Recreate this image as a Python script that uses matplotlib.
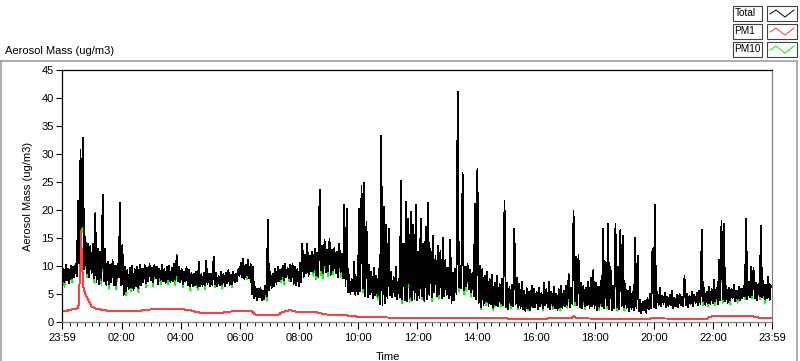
"""Aerosol mass over 24 h (Total / PM1 / PM10), LabVIEW-style chart."""
import numpy as np
import matplotlib
matplotlib.use("Agg")
import matplotlib.pyplot as plt
from matplotlib.lines import Line2D
from matplotlib.patches import Rectangle

plt.rcParams["font.family"] = ["Liberation Sans", "DejaVu Sans"]

# Total trace, read as 5-minute envelope (max / min), one row = one hour from 23:59
total_hi = [
    9.5, 10.2, 9.4, 10.0, 9.8, 10.4, 21.6, 30.7, 33.0, 15.2, 14.0, 13.5,
    14.0, 19.4, 13.0, 12.5, 22.7, 13.0, 10.8, 10.2, 11.0, 10.0, 10.4, 21.2,
    13.7, 9.8, 9.2, 9.6, 10.0, 9.4, 9.9, 10.2, 9.5, 10.1, 9.7, 10.3,
    9.6, 10.2, 9.8, 9.5, 10.1, 9.4, 9.9, 10.0, 9.6, 10.3, 11.9, 9.8,
    9.5, 9.0, 9.8, 9.2, 8.8, 8.6, 9.0, 10.7, 8.5, 8.8, 10.9, 8.6,
    8.6, 11.7, 8.8, 8.2, 9.0, 8.5, 8.7, 9.2, 8.4, 8.9, 8.6, 9.4,
    10.5, 11.3, 10.2, 11.0, 10.4, 9.8, 6.2, 5.8, 6.0, 5.6, 6.4, 18.3,
    9.0, 8.6, 9.4, 9.8, 9.2, 10.0, 10.4, 9.6, 10.2, 10.4, 9.8, 9.5,
    10.5, 14.0, 12.0, 13.9, 11.8, 12.5, 13.1, 12.4, 23.6, 13.5, 14.6, 12.8,
    14.9, 12.8, 13.2, 12.5, 14.0, 12.2, 20.9, 20.2, 8.4, 7.6, 10.7, 8.0,
    20.2, 24.3, 24.8, 17.9, 10.1, 9.0, 9.6, 8.2, 9.4, 33.3, 20.6, 17.3,
    16.7, 9.0, 8.0, 9.8, 7.6, 25.2, 14.0, 21.5, 18.5, 19.7, 17.3, 20.9,
    12.5, 18.5, 14.0, 17.0, 21.2, 13.0, 15.4, 11.8, 13.5, 12.6, 15.0, 11.0,
    9.6, 14.6, 8.8, 9.4, 41.2, 10.0, 26.7, 9.8, 10.4, 9.2, 8.8, 21.1,
    27.4, 10.0, 9.4, 8.2, 9.0, 7.6, 8.4, 7.0, 8.2, 6.8, 7.6, 21.6,
    7.0, 6.2, 6.6, 16.6, 7.8, 6.8, 7.2, 5.6, 6.0, 5.4, 6.4, 5.8,
    5.4, 6.0, 5.2, 6.9, 5.8, 7.2, 5.4, 6.2, 5.0, 5.8, 6.4, 5.6,
    6.4, 8.5, 6.0, 19.8, 11.6, 12.0, 7.0, 6.4, 6.0, 7.2, 7.8, 9.2,
    7.0, 6.2, 7.4, 16.7, 10.7, 17.6, 9.8, 6.4, 17.6, 9.8, 16.4, 15.3,
    6.8, 5.6, 6.2, 5.4, 15.0, 11.8, 4.0, 3.6, 3.8, 4.2, 5.0, 13.0,
    20.9, 5.4, 6.0, 4.6, 5.2, 4.4, 4.8, 5.6, 4.2, 4.8, 5.0, 4.4,
    8.2, 5.0, 4.6, 5.4, 4.8, 5.2, 5.6, 16.5, 6.0, 5.4, 6.2, 5.8,
    7.5, 6.0, 11.0, 18.0, 17.6, 6.4, 6.0, 5.8, 6.6, 5.6, 6.2, 5.8,
    6.4, 18.5, 7.2, 9.8, 9.6, 7.0, 6.8, 17.1, 7.4, 6.6, 8.0, 6.5,
]
total_lo = [
    6.3, 7.0, 7.4, 6.9, 7.8, 8.0, 8.2, 10.5, 17.0, 9.4, 8.6, 8.0,
    8.6, 7.8, 7.0, 6.8, 7.4, 7.2, 6.6, 6.8, 7.0, 6.5, 6.6, 8.0,
    6.5, 4.8, 5.5, 5.8, 6.2, 5.6, 6.3, 6.0, 6.6, 7.0, 6.9, 7.2,
    7.4, 7.0, 7.8, 6.8, 7.5, 7.2, 6.9, 7.6, 7.0, 7.3, 7.5, 7.2,
    7.0, 6.8, 7.2, 6.5, 6.4, 6.3, 6.6, 6.2, 6.3, 6.4, 6.5, 6.8,
    6.4, 6.6, 6.8, 6.3, 6.5, 6.7, 6.4, 6.9, 6.6, 6.8, 7.0, 7.2,
    8.2, 8.0, 7.6, 8.4, 7.8, 5.0, 4.2, 3.9, 4.4, 3.8, 4.0, 4.5,
    5.6, 6.0, 6.3, 6.8, 7.2, 7.6, 7.4, 8.0, 7.8, 7.2, 6.8, 6.6,
    6.4, 7.0, 8.0, 8.6, 8.2, 9.0, 8.8, 8.4, 8.0, 9.2, 8.6, 8.8,
    9.0, 8.4, 9.2, 8.6, 8.0, 8.8, 7.8, 6.3, 5.2, 5.0, 5.4, 4.8,
    5.0, 5.4, 6.0, 4.6, 4.4, 5.0, 4.2, 4.8, 4.5, 3.2, 3.0, 3.4,
    4.2, 4.8, 4.4, 4.6, 4.0, 4.4, 4.0, 3.8, 3.6, 4.2, 3.8, 4.0,
    3.8, 4.2, 4.6, 3.6, 4.0, 4.8, 4.4, 5.2, 4.6, 5.0, 4.2, 4.6,
    4.8, 4.2, 3.4, 3.8, 5.0, 6.2, 6.0, 5.6, 6.4, 5.8, 5.2, 4.6,
    4.0, 3.4, 2.6, 3.0, 3.6, 2.8, 3.2, 2.4, 3.0, 2.8, 3.4, 3.0,
    2.6, 2.2, 3.0, 2.8, 3.2, 2.6, 2.4, 2.2, 1.8, 2.4, 2.0, 2.6,
    2.6, 2.2, 2.8, 2.4, 3.0, 2.6, 2.2, 2.8, 2.4, 2.0, 2.6, 2.4,
    2.8, 3.0, 2.6, 3.2, 3.6, 3.0, 2.6, 2.4, 2.8, 3.0, 2.4, 2.8,
    2.4, 2.0, 2.6, 2.8, 2.4, 3.0, 2.2, 2.0, 2.4, 2.6, 2.2, 2.8,
    2.6, 2.4, 1.8, 2.2, 2.0, 2.4, 1.8, 1.5, 2.0, 1.6, 2.2, 2.4,
    2.6, 2.4, 3.0, 2.8, 3.2, 2.6, 2.8, 3.0, 2.4, 2.8, 2.6, 3.0,
    2.8, 3.0, 2.6, 3.2, 2.8, 3.4, 3.0, 3.2, 3.6, 3.0, 3.4, 3.2,
    3.4, 3.6, 3.2, 3.8, 4.0, 3.6, 3.4, 3.8, 4.2, 3.6, 4.0, 3.8,
    4.2, 4.6, 4.0, 4.4, 4.8, 4.2, 3.9, 4.6, 4.4, 4.0, 4.2, 3.8,
]
# PM10 lows (its peaks sit under the Total trace)
pm10_lo = [
    6.3, 6.2, 7.4, 6.9, 7.0, 8.0, 8.2, 10.5, 16.0, 9.4, 8.0, 8.0,
    8.6, 7.0, 7.0, 6.8, 6.6, 7.2, 6.6, 6.0, 7.0, 6.5, 5.8, 8.0,
    6.5, 4.8, 4.8, 5.8, 5.4, 5.6, 6.3, 5.2, 6.6, 7.0, 6.2, 7.2,
    7.4, 6.3, 7.8, 6.8, 6.7, 7.2, 6.9, 6.8, 7.0, 7.3, 6.6, 7.2,
    7.0, 6.2, 7.2, 6.5, 5.7, 6.3, 6.6, 5.6, 6.3, 6.4, 5.8, 6.8,
    6.4, 6.6, 6.1, 6.3, 6.5, 6.0, 6.4, 6.9, 6.6, 6.1, 7.0, 7.2,
    8.2, 8.0, 7.6, 7.7, 7.8, 5.0, 4.2, 3.9, 4.4, 3.8, 4.0, 3.8,
    5.6, 6.0, 6.3, 6.8, 7.2, 7.0, 6.8, 8.0, 7.2, 7.2, 6.8, 6.6,
    6.4, 7.0, 8.0, 8.6, 8.2, 9.0, 8.1, 7.6, 8.0, 8.4, 7.8, 8.8,
    8.2, 8.4, 8.5, 8.6, 8.0, 8.0, 7.8, 6.3, 5.2, 5.0, 5.4, 4.8,
    5.0, 5.4, 5.2, 4.6, 4.4, 5.0, 4.2, 4.8, 3.8, 3.2, 3.0, 3.4,
    4.2, 4.8, 4.4, 4.6, 4.0, 4.4, 3.4, 3.8, 3.6, 3.5, 3.8, 4.0,
    3.8, 4.2, 4.0, 3.6, 4.0, 4.8, 3.7, 5.2, 4.6, 4.3, 4.2, 4.6,
    4.8, 4.2, 3.4, 3.8, 5.0, 5.4, 6.0, 4.9, 5.6, 5.8, 4.6, 4.6,
    4.0, 3.4, 2.2, 3.0, 3.0, 2.8, 3.2, 2.0, 3.0, 2.8, 2.8, 3.0,
    2.6, 2.2, 2.4, 2.8, 3.2, 2.2, 2.4, 2.2, 1.8, 2.0, 2.0, 2.6,
    2.6, 2.2, 2.8, 2.0, 3.0, 2.6, 2.2, 2.3, 2.4, 2.0, 2.1, 2.4,
    2.8, 2.5, 2.6, 3.2, 3.0, 3.0, 2.6, 2.4, 2.2, 3.0, 2.4, 2.8,
    2.4, 2.0, 2.1, 2.8, 2.4, 2.4, 2.2, 2.0, 2.4, 2.0, 2.2, 2.8,
    2.0, 2.4, 1.8, 2.2, 2.0, 2.4, 1.8, 1.5, 2.0, 1.6, 2.2, 2.4,
    2.6, 2.4, 3.0, 2.8, 3.2, 2.6, 2.8, 3.0, 2.4, 2.8, 2.6, 3.0,
    2.8, 3.0, 2.6, 3.2, 2.8, 3.4, 3.0, 3.2, 3.0, 3.0, 2.8, 3.2,
    3.4, 3.0, 3.2, 3.8, 3.4, 3.6, 3.4, 3.2, 4.2, 3.6, 3.4, 3.8,
    4.2, 4.0, 4.0, 4.4, 4.2, 4.2, 3.9, 4.0, 4.4, 3.4, 4.2, 3.8,
]
# PM1: smooth trace, read at breakpoints (hours after 23:59, ug/m3)
pm1_hours = [0.0, 0.2, 0.4, 0.55, 0.58, 0.62, 0.64, 0.67, 0.7, 0.72, 0.78, 0.85,
             0.95, 1.0, 1.1, 1.3, 1.6, 2.2, 2.6, 3.0, 3.5, 4.0, 4.3, 4.5, 4.8,
             5.4, 5.5, 6.0, 6.4, 6.5, 6.6, 7.3, 7.4, 7.7, 8.0, 8.6, 8.9, 9.5,
             10.0, 11.0, 12.5, 14.0, 15.0, 15.3, 16.0, 16.5, 17.2, 17.3, 17.4,
             19.0, 19.8, 19.9, 21.8, 21.9, 22.1, 23.3, 23.4, 23.6, 24.0]
pm1_vals = [1.9, 2.0, 2.3, 2.4, 4.5, 12.0, 16.2, 11.6, 8.0, 6.3, 5.1, 4.2,
            3.3, 2.7, 2.4, 2.2, 1.9, 1.85, 1.95, 2.2, 2.2, 2.25, 2.1, 1.8, 1.5,
            1.6, 1.7, 2.0, 2.0, 1.4, 1.2, 1.2, 1.6, 2.1, 1.7, 1.7, 1.3, 1.2,
            0.9, 0.75, 0.7, 0.7, 0.6, 0.45, 0.45, 0.6, 0.6, 1.0, 0.6,
            0.5, 0.45, 0.6, 0.5, 0.9, 1.0, 1.0, 0.9, 0.7, 0.7]

tick_minutes = [0, 121, 241, 361, 481, 601, 721, 841, 961, 1081, 1201, 1321, 1440]
tick_labels = ["23:59", "02:00", "04:00", "06:00", "08:00", "10:00", "12:00",
               "14:00", "16:00", "18:00", "20:00", "22:00", "23:59"]
minor_minutes = [m for m in range(16, 1440, 15) if m not in tick_minutes]

W, H = 800, 361
fig = plt.figure(figsize=(W / 100, H / 100), dpi=100)
ax = fig.add_axes([62 / W, 1 - 321.7 / H, 710 / W, 251.4 / H])

# zig-zag the envelopes, low then high in each 5-minute slot
t = np.arange(2 * len(total_hi)) * 2.5
total = np.column_stack([total_lo, total_hi]).ravel()
pm10 = np.column_stack([pm10_lo, total_hi]).ravel()
ax.plot(t, pm10, color="#00ff00", lw=0.55, antialiased=False)
ax.plot(np.array(pm1_hours) * 60, pm1_vals, color="#ff4040", lw=0.7, antialiased=False)
ax.plot(t, total, color="black", lw=0.55, antialiased=False)

ax.set_xlim(0, 1440)
ax.set_ylim(0, 45)
ax.set_yticks(range(0, 46, 5))
ax.set_xticks(tick_minutes)
ax.set_xticklabels(tick_labels)
ax.set_xticks(minor_minutes, minor=True)
ax.tick_params(axis="both", labelsize=8, direction="out", width=0.8, color="black")
ax.tick_params(axis="x", which="major", length=5, pad=3)
ax.tick_params(axis="x", which="minor", length=3)
ax.tick_params(axis="y", length=4, pad=2)
for side in ("top", "left"):
    ax.spines[side].set_color("black")
for side in ("right", "bottom"):
    ax.spines[side].set_color("#808080")
for s in ax.spines.values():
    s.set_linewidth(0.9)

ax.set_xlabel("Time", fontsize=8)
ax.xaxis.set_label_coords((388 - 62) / 710, (321.7 - 352) / 251.4)
ax.set_ylabel("Aerosol Mass (ug/m3)", fontsize=8)
ax.yaxis.set_label_coords((33 - 62) / 710, 0.5)


# panel frame and legend, placed in pixel terms
def fx(x):
    return x / W


def fy(y):
    return 1 - y / H


for xs, ys in [([0, 797], [61, 61]), ([0.5, 0.5], [61, 361]), ([797, 797], [61, 361])]:
    fig.add_artist(Line2D([fx(v) for v in xs], [fy(v) for v in ys],
                          transform=fig.transFigure, color="#a0a0a0", lw=1.2))

fig.text(fx(5), fy(51), "Aerosol Mass (ug/m3)", fontsize=8, ha="left", va="center")

legend_names = ["Total", "PM1", "PM10"]
legend_colors = ["black", "#ff4040", "#00ff00"]
for i, (name, col) in enumerate(zip(legend_names, legend_colors)):
    top = 6 + 18 * i
    fig.add_artist(Rectangle((fx(733), fy(top + 15)), 29 / W, 15 / H,
                             transform=fig.transFigure, fc="white", ec="#404040", lw=0.8))
    fig.add_artist(Rectangle((fx(767), fy(top + 15)), 30 / W, 15 / H,
                             transform=fig.transFigure, fc="white", ec="#404040", lw=0.8))
    fig.text(fx(734.5), fy(top + 7.5), name, fontsize=7.2, ha="left", va="center")
    ix = [770, 776, 785, 794]
    iy = [top + 8, top + 4, top + 11, top + 4]
    fig.add_artist(Line2D([fx(v) for v in ix], [fy(v) for v in iy],
                          transform=fig.transFigure, color=col, lw=0.7))

fig.savefig("out.png", dpi=100)
